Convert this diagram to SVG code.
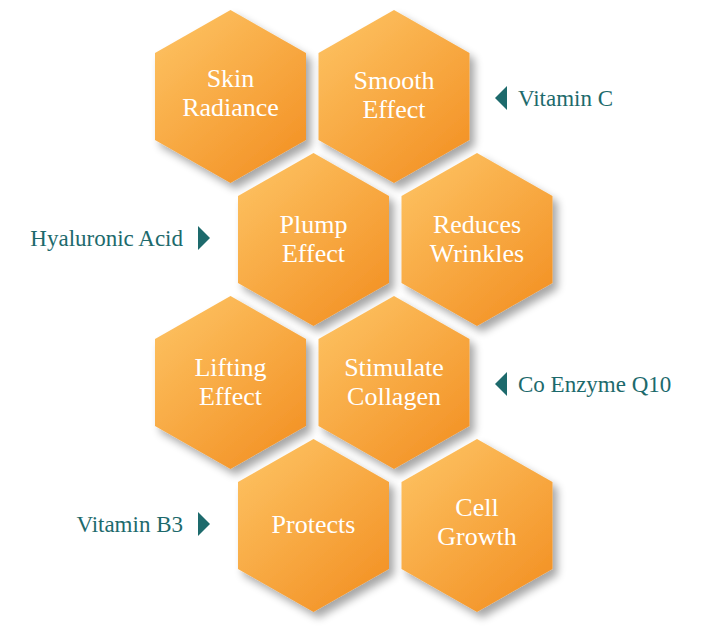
<svg xmlns="http://www.w3.org/2000/svg" width="705" height="631" viewBox="0 0 705 631">
<defs>
<linearGradient id="g" x1="0.2" y1="0.1" x2="0.85" y2="0.95"><stop offset="0" stop-color="#fcbd5c"/><stop offset="1" stop-color="#f39225"/></linearGradient>
<filter id="sh" x="-20%" y="-20%" width="150%" height="150%"><feGaussianBlur in="SourceAlpha" stdDeviation="4"/><feOffset dx="5" dy="6"/><feComponentTransfer><feFuncA type="linear" slope="0.35"/></feComponentTransfer><feMerge><feMergeNode/><feMergeNode in="SourceGraphic"/></feMerge></filter>
<polygon id="hx" points="0,-86.5 75.5,-43.5 75.5,43.5 0,86.5 -75.5,43.5 -75.5,-43.5"/>
</defs>
<style>
.h{fill:url(#g);filter:url(#sh)}
.t{font-family:"Liberation Serif",serif;font-size:26px;fill:#fff;text-anchor:middle}
.l{font-family:"Liberation Serif",serif;font-size:23px;fill:#1d6a6c}
.a{fill:#1d6a6c}
</style>
<g id="n1"><use href="#hx" class="h" x="230.5" y="96.5"/><text class="t" x="230.5" y="87">Skin</text><text class="t" x="230.5" y="116">Radiance</text></g>
<g id="n2"><use href="#hx" class="h" x="394" y="96.5"/><text class="t" x="394" y="89">Smooth</text><text class="t" x="394" y="118">Effect</text></g>
<g id="n3"><use href="#hx" class="h" x="313.5" y="239.5"/><text class="t" x="313.5" y="233">Plump</text><text class="t" x="313.5" y="262">Effect</text></g>
<g id="n4"><use href="#hx" class="h" x="477" y="239.5"/><text class="t" x="477" y="233">Reduces</text><text class="t" x="477" y="262">Wrinkles</text></g>
<g id="n5"><use href="#hx" class="h" x="230.5" y="382.5"/><text class="t" x="230.5" y="376">Lifting</text><text class="t" x="230.5" y="405">Effect</text></g>
<g id="n6"><use href="#hx" class="h" x="394" y="382.5"/><text class="t" x="394" y="376">Stimulate</text><text class="t" x="394" y="405">Collagen</text></g>
<g id="n7"><use href="#hx" class="h" x="313.5" y="525.5"/><text class="t" x="313.5" y="533">Protects</text></g>
<g id="n8"><use href="#hx" class="h" x="477" y="525.5"/><text class="t" x="477" y="516">Cell</text><text class="t" x="477" y="545">Growth</text></g>
<g id="labels">
<polygon class="a" points="507,86 507,110 495,98"/><text class="l" x="518" y="106">Vitamin C</text>
<polygon class="a" points="198,226 198,250 210,238"/><text class="l" x="183" y="246" text-anchor="end">Hyaluronic Acid</text>
<polygon class="a" points="507,372 507,396 495,384"/><text class="l" x="518" y="392">Co Enzyme Q10</text>
<polygon class="a" points="198,512 198,536 210,524"/><text class="l" x="183" y="532" text-anchor="end">Vitamin B3</text>
</g>
</svg>
